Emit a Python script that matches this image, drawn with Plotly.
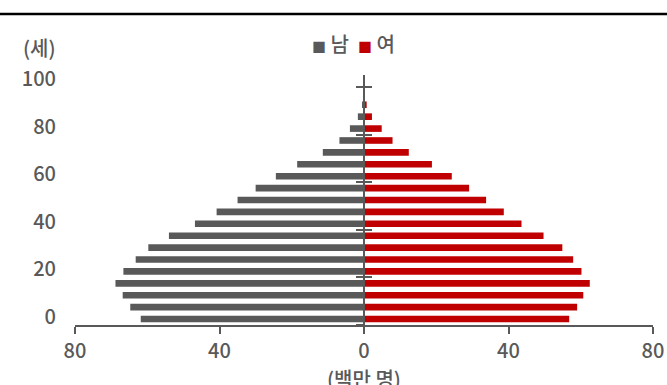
import plotly.graph_objects as go

# Age groups (5-year bands, youngest first) and population in millions
age_groups = ["0-4", "5-9", "10-14", "15-19", "20-24", "25-29", "30-34", "35-39",
              "40-44", "45-49", "50-54", "55-59", "60-64", "65-69", "70-74",
              "75-79", "80-84", "85-89", "90-94", "95-99", "100+"]
age_start = [0, 5, 10, 15, 20, 25, 30, 35, 40, 45, 50, 55, 60, 65, 70, 75,
             80, 85, 90, 95, 100]
male = [61.8, 64.7, 66.8, 68.8, 66.6, 63.2, 59.7, 54.0, 46.8, 40.8, 35.0,
        30.0, 24.4, 18.5, 11.4, 6.8, 3.9, 1.7, 0.55, 0.1, 0.02]
female = [56.8, 59.0, 60.7, 62.5, 60.2, 57.9, 54.9, 49.7, 43.6, 38.7, 33.8,
          29.1, 24.3, 18.8, 12.4, 7.9, 4.9, 2.2, 0.74, 0.2, 0.03]

x_tick_vals = [-80, -40, 0, 40, 80]
x_tick_text = ["80", "40", "0", "40", "80"]
y_tick_vals = [0, 20, 40, 60, 80, 100]

GRAY = "#595959"
RED = "#C00000"
FONT = "Noto Sans CJK KR"
WEIGHT = 500

band = 5
centers = [a + band / 2 for a in age_start]

fig = go.Figure()
fig.add_trace(go.Bar(
    name="남", y=centers, x=[-v for v in male], orientation="h",
    width=band * 0.556, marker=dict(color=GRAY, line=dict(width=0)),
    customdata=male, hovertemplate="%{customdata}<extra>남</extra>",
    showlegend=False,
))
fig.add_trace(go.Bar(
    name="여", y=centers, x=female, orientation="h",
    width=band * 0.556, marker=dict(color=RED, line=dict(width=0)),
    showlegend=False,
))
# Empty traces to carry the centre axis (cross-style tick marks)
fig.add_trace(go.Scatter(x=[None], y=[None], yaxis="y2", showlegend=False, hoverinfo="skip"))
fig.add_trace(go.Scatter(x=[None], y=[None], yaxis="y3", showlegend=False, hoverinfo="skip"))

center_axis = dict(
    range=[0, 105], overlaying="y", anchor="free", position=0.5,
    showgrid=False, zeroline=False, showticklabels=False, automargin=False,
    tickvals=y_tick_vals, ticklen=7, tickwidth=1.5, tickcolor=GRAY,
)

label_font = dict(size=20, color=GRAY, family=FONT, weight=WEIGHT)

fig.update_layout(
    width=667, height=385,
    margin=dict(l=75, r=14, t=75, b=60, autoexpand=False),
    paper_bgcolor="white", plot_bgcolor="white",
    barmode="overlay",
    font=label_font,
    xaxis=dict(
        range=[-80, 80], tickvals=x_tick_vals, ticktext=x_tick_text,
        showgrid=False, zeroline=False, automargin=False,
        showline=True, linecolor=GRAY, linewidth=1.5,
        ticks="outside", ticklen=7, tickwidth=1.5, tickcolor=GRAY,
        tickfont=label_font, fixedrange=True,
    ),
    yaxis=dict(
        range=[0, 105], tickvals=y_tick_vals,
        showgrid=False, zeroline=False, showline=False, ticks="",
        automargin=False, tickfont=label_font,
        ticklabelshift=-8, ticklabelstandoff=18,
        fixedrange=True,
    ),
    yaxis2=dict(center_axis, showline=True, linecolor=GRAY, linewidth=2, ticks="outside"),
    yaxis3=dict(center_axis, showline=False, ticks="inside"),
    shapes=[dict(
        type="line", xref="paper", yref="paper",
        x0=-0.2, x1=1.2, y0=1 + 61 / 250, y1=1 + 61 / 250,
        line=dict(color="black", width=2.5),
    )],
    annotations=[
        dict(text="(세)", xref="paper", yref="paper", x=0, y=1,
             xanchor="right", yanchor="middle", xshift=-17, yshift=28,
             showarrow=False, font=label_font),
        dict(text=(f"<span style='color:{GRAY};font-size:14px'>■</span> 남  "
                   f"<span style='color:{RED};font-size:14px'>■</span> 여"),
             xref="paper", yref="paper", x=(353 - 75) / 578, y=1,
             xanchor="center", yanchor="middle", yshift=32,
             showarrow=False, font=label_font),
        dict(text="(백만 명)", xref="x", yref="paper", x=0, y=0,
             xanchor="center", yanchor="middle", yshift=-53,
             showarrow=False, font=label_font),
    ],
)

fig.write_html("out.html")
